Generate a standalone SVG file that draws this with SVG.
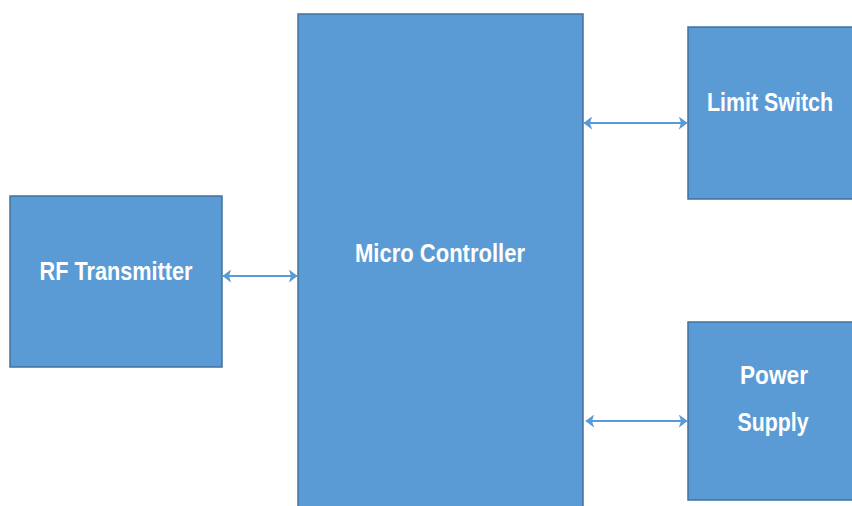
<svg xmlns="http://www.w3.org/2000/svg" width="852" height="506" viewBox="0 0 852 506">
<style>
.box{fill:#5B9BD5;stroke:#41719C;stroke-width:1.5}
.lbl{fill:#fff;font-family:"Liberation Sans",Arial,sans-serif;font-weight:bold;font-size:26px;text-anchor:middle}
.conn{stroke:#5B9BD5;stroke-width:2;fill:none;marker-start:url(#ah);marker-end:url(#ah)}
</style>
<defs>
<marker id="ah" viewBox="0 0 8 12" refX="7.5" refY="6" markerWidth="4.5" markerHeight="6.5" orient="auto-start-reverse" markerUnits="strokeWidth">
<path d="M0,0 L8,6 L0,12 L2,6 Z" fill="#5B9BD5"/>
</marker>
</defs>
<rect width="852" height="506" fill="#fff"/>
<g id="rf-transmitter">
<rect class="box" x="10" y="196" width="212" height="171"/>
<text class="lbl" x="116" y="280" textLength="153" lengthAdjust="spacingAndGlyphs">RF Transmitter</text>
</g>
<g id="micro-controller">
<rect class="box" x="298" y="14" width="285" height="500"/>
<text class="lbl" x="440" y="262" textLength="170" lengthAdjust="spacingAndGlyphs">Micro Controller</text>
</g>
<g id="limit-switch">
<rect class="box" x="688" y="27" width="170" height="172"/>
<text class="lbl" x="770" y="111" textLength="126" lengthAdjust="spacingAndGlyphs">Limit Switch</text>
</g>
<g id="power-supply">
<rect class="box" x="688" y="322" width="170" height="178"/>
<text class="lbl" x="774" y="384" textLength="68" lengthAdjust="spacingAndGlyphs">Power</text>
<text class="lbl" x="773" y="431" textLength="71" lengthAdjust="spacingAndGlyphs">Supply</text>
</g>
<g id="connectors">
<line class="conn" x1="223" y1="276" x2="297" y2="276"/>
<line class="conn" x1="584" y1="123" x2="687" y2="123"/>
<line class="conn" x1="586" y1="421" x2="687" y2="421"/>
</g>
</svg>
